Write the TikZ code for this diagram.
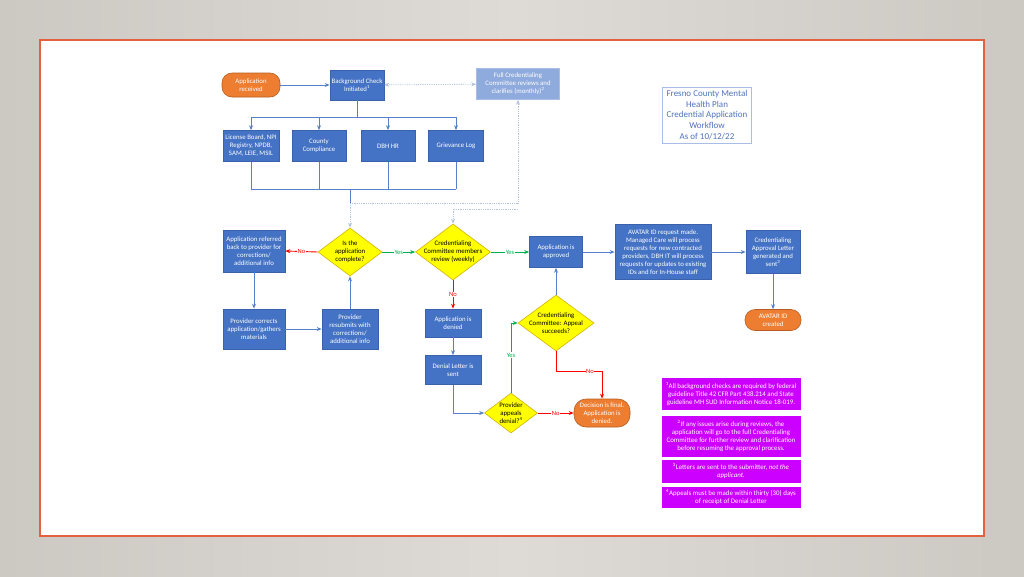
\documentclass[tikz,border=0pt]{standalone}
\usepackage{fontspec}
\setmainfont{Carlito}
\usetikzlibrary{shapes.geometric,arrows.meta}
\definecolor{boxblue}{HTML}{4472C4}
\definecolor{boxedge}{HTML}{3A62AC}
\definecolor{paleblue}{HTML}{8FAADC}
\definecolor{paleedge}{HTML}{A9BEE6}
\definecolor{orangefill}{HTML}{ED7D31}
\definecolor{orangeedge}{HTML}{B65E22}
\definecolor{decyellow}{HTML}{FFFF00}
\definecolor{decedge}{HTML}{D4B200}
\definecolor{yesgreen}{HTML}{00B050}
\definecolor{nored}{HTML}{FF0000}
\definecolor{dotblue}{HTML}{B4C3DE}
\definecolor{notepurple}{HTML}{CC00FF}
\definecolor{frameorange}{HTML}{E5603F}
\definecolor{slideedge}{HTML}{CCC8C2}
\definecolor{slidemid}{HTML}{DEDAD6}
\definecolor{titleblue}{HTML}{4F72BD}

\begin{document}
\begin{tikzpicture}[x=1pt,y=-1pt,
 box/.style={draw=boxedge,fill=boxblue,text=white,align=center,font=\fontsize{6.8}{8}\selectfont,inner sep=1pt,line width=0.6pt,minimum width=56pt,minimum height=31pt},
 palebox/.style={box,draw=paleedge,fill=paleblue},
 pill/.style={box,draw=orangeedge,fill=orangefill,rounded corners=10pt,minimum height=24pt},
 decision/.style={diamond,draw=decedge,fill=decyellow,text=black,align=center,font=\fontsize{6.8}{8}\selectfont,inner sep=-8pt,line width=0.6pt},
 note/.style={fill=notepurple,text=white,align=center,font=\fontsize{6.9}{8.2}\selectfont,inner sep=1pt,minimum width=139pt},
 conn/.style={draw=boxblue!90!white,line width=0.9pt},
 arrow/.style={conn,-{Stealth[length=5pt,width=4pt]}},
 yesarrow/.style={arrow,draw=yesgreen},
 noarrow/.style={arrow,draw=nored},
 dotline/.style={draw=dotblue,line width=0.8pt,densely dotted},
 dotarrow/.style={dotline,-{Stealth[length=5pt,width=4pt]}},
 yeslbl/.style={fill=white,text=yesgreen,font=\fontsize{6.5}{7}\selectfont,inner sep=0.5pt},
 nolbl/.style={fill=white,text=nored,font=\fontsize{6.5}{7}\selectfont,inner sep=0.5pt}]
\useasboundingbox (0,0) rectangle (1024,576);
\shade[left color=slideedge,right color=slideedge,middle color=slidemid] (0,0) rectangle (1024,576);
\draw[frameorange,line width=1.5pt,fill=white] (40,40) rectangle (984,536);

\node(recv)[pill,minimum width=58pt] at (251,85){Application\\received};
\node(bg)[box,minimum width=54pt,minimum height=30pt] at (357,85){Background Check\\Initiated\textsuperscript{1}};
\node(full)[palebox,minimum width=83pt] at (518,84){Full Credentialing\\Committee reviews and\\clarifies (monthly)\textsuperscript{2}};
\node(title)[draw=paleedge,line width=0.5pt,text=titleblue,align=center,font=\fontsize{9}{10.7}\selectfont,minimum width=89pt,minimum height=56pt,inner sep=1pt] at (707,115){Fresno County Mental\\Health Plan\\Credential Application\\Workflow\\As of 10/12/22};

\node(lic)[box] at (251,146){License Board, NPI\\Registry, NPDB,\\SAM, LEIE, MSIL};
\node(cc)[box,minimum width=54pt] at (319,146){County\\Compliance};
\node(hr)[box,minimum width=54pt] at (388,146){DBH HR};
\node(griev)[box,minimum width=55pt] at (456,146){Grievance Log};

\node(referred)[box,minimum width=62pt,minimum height=42pt] at (254,251){Application referred\\back to provider for\\corrections/\\additional info};
\node(complete)[decision,minimum width=64pt,minimum height=48pt] at (350,252){Is the\\application\\complete?};
\node(review)[decision,minimum width=75pt,minimum height=56pt] at (453,252){Credentialing\\Committee members\\review (weekly)};
\node(approved)[box,minimum width=53pt] at (556,252){Application is\\approved};
\node(avatar)[box,minimum width=96pt,minimum height=55pt] at (663,252){AVATAR ID request made.\\Managed Care will process\\requests for new contracted\\providers, DBH IT will process\\requests for updates to existing\\IDs and for In-House staff};
\node(letter)[box,minimum width=54pt,minimum height=43pt] at (773,252){Credentialing\\Approval Letter\\generated and\\sent\textsuperscript{3}};
\node(created)[pill,minimum height=21pt] at (773,320){AVATAR ID\\created};

\node(corrects)[box,minimum width=62pt,minimum height=40pt] at (254,329){Provider corrects\\application/gathers\\materials};
\node(resubmit)[box,minimum height=40pt] at (350,329){Provider\\resubmits with\\corrections/\\additional info};
\node(denied)[box,minimum height=28pt] at (453,323){Application is\\denied};
\node(succeed)[decision,minimum width=76pt,minimum height=56pt] at (556,323){Credentialing\\Committee: Appeal\\succeeds?};
\node(sent)[box,minimum height=29pt] at (453,370){Denial Letter is\\sent};
\node(appeal)[decision,minimum width=53pt,minimum height=40pt] at (511,413){Provider\\appeals\\denial?\textsuperscript{4}};
\node(final)[pill,minimum height=28pt,rounded corners=12pt] at (602,413){Decision is final.\\Application is\\denied.};

\node(note1)[note,minimum height=32pt] at (731,394){\textsuperscript{1}All background checks are required by federal\\guideline Title 42 CFR Part 438.214 and State\\guideline MH SUD Information Notice 18-019.};
\node(note2)[note,minimum height=41pt] at (731,436){\textsuperscript{2}If any issues arise during reviews, the\\application will go to the full Credentialing\\Committee for further review and clarification\\before resuming the approval process.};
\node(note3)[note,minimum height=23pt] at (731,471){\textsuperscript{3}Letters are sent to the submitter, \textit{not the}\\\textit{applicant.}};
\node(note4)[note,minimum height=21pt] at (731,497){\textsuperscript{4}Appeals must be made within thirty (30) days\\of receipt of Denial Letter};

\coordinate(topbus) at (0,117);
\coordinate(botbus) at (0,189);
\coordinate(split) at (0,203);
\coordinate(split2) at (0,209);

\draw[arrow](recv)--(bg);
\draw[dotline,{Stealth[length=5pt,width=4pt]}-{Stealth[length=5pt,width=4pt]}](bg)--(full);
\draw[conn](bg.south)--(bg.south|-topbus);
\draw[conn](lic.north|-topbus)--(griev.north|-topbus);
\foreach \n in {lic,cc,hr,griev}{\draw[arrow](\n.north|-topbus)--(\n.north);}
\foreach \n in {lic,cc,hr,griev}{\draw[conn](\n.south)--(\n.south|-botbus);}
\draw[conn](lic.south|-botbus)--(griev.south|-botbus);
\draw[conn](complete.north|-botbus)--(complete.north|-split);
\draw[dotarrow](complete.north|-split)--(complete.north);
\draw[dotarrow](complete.north|-split)-|(full.south);
\draw[dotarrow](full.south|-split2)-|(review.north);

\draw[noarrow](complete.west)--node[nolbl]{No}(referred.east);
\draw[yesarrow](complete.east)--node[yeslbl]{Yes}(review.west);
\draw[yesarrow](review.east)--node[yeslbl]{Yes}(approved.west);
\draw[noarrow](review.south)--node[nolbl]{No}(denied.north);
\draw[arrow](referred.south)--(corrects.north);
\draw[arrow](corrects.east)--(resubmit.west);
\draw[arrow](resubmit.north)--(complete.south);
\draw[arrow](denied.south)--(sent.north);
\draw[arrow](sent.south)|-(appeal.west);
\draw[yesarrow](appeal.north)|-node[pos=0.27,yeslbl]{Yes}(succeed.west);
\draw[noarrow](succeed.south)--++(0,20)-|node[pos=0.37,nolbl]{No}(final.north);
\draw[noarrow](appeal.east)--node[nolbl]{No}(final.west);
\draw[arrow](succeed.north)--(approved.south);
\draw[arrow](approved.east)--(avatar.west);
\draw[arrow](avatar.east)--(letter.west);
\draw[arrow](letter.south)--(created.north);
\end{tikzpicture}
\end{document}
